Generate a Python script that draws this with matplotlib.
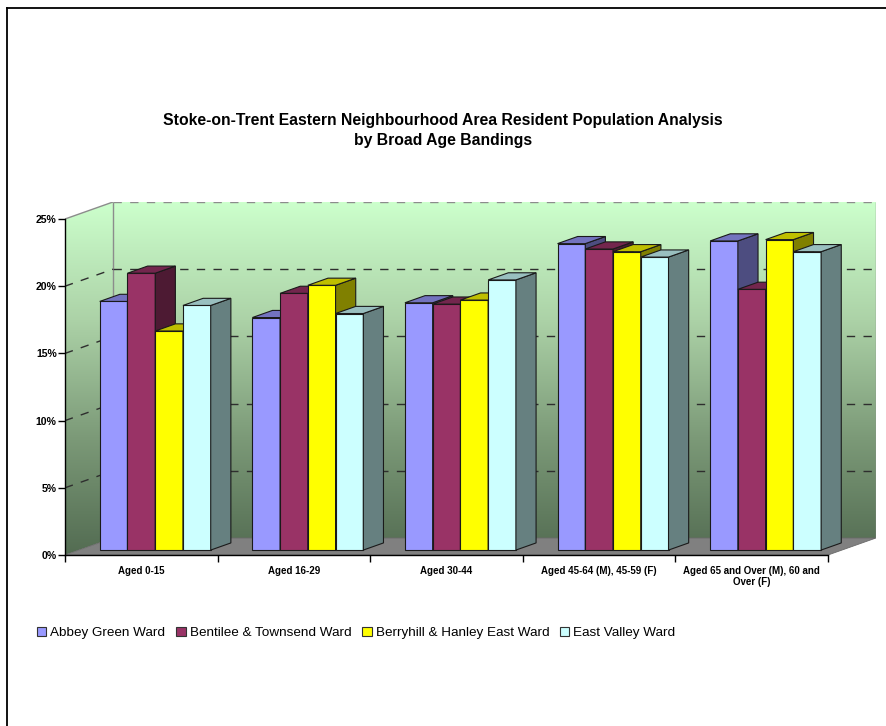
import numpy as np
import matplotlib
matplotlib.use("Agg")
import matplotlib.pyplot as plt
from matplotlib.patches import Polygon, Patch
from matplotlib.lines import Line2D
from matplotlib.colors import LinearSegmentedColormap

plt.rcParams["font.family"] = ["Liberation Sans", "DejaVu Sans"]

# ---- data (percent of resident population) ----
categories = ["Aged 0-15", "Aged 16-29", "Aged 30-44",
              "Aged 45-64 (M), 45-59 (F)",
              "Aged 65 and Over (M), 60 and\nOver (F)"]
wards = ["Abbey Green Ward", "Bentilee & Townsend Ward",
         "Berryhill & Hanley East Ward", "East Valley Ward"]
abbey_green = [18.5, 17.3, 18.4, 22.8, 23.0]
bentilee_townsend = [20.6, 19.1, 18.3, 22.4, 19.4]
berryhill_hanley_east = [16.3, 19.7, 18.6, 22.2, 23.1]
east_valley = [18.2, 17.6, 20.1, 21.8, 22.2]
y_ticks = [0, 5, 10, 15, 20, 25]
y_tick_labels = ["0%", "5%", "10%", "15%", "20%", "25%"]

series = [abbey_green, bentilee_townsend, berryhill_hanley_east, east_valley]

# ---- styling ----
front_colors = ["#9999FF", "#993366", "#FFFF00", "#CCFFFF"]
top_colors = ["#7373BF", "#73264D", "#BFBF00", "#99BFBF"]
side_colors = ["#4D4D80", "#4D1A33", "#808000", "#668080"]

W, H = 887, 726
fig = plt.figure(figsize=(W / 100, H / 100), dpi=100)

# plot geometry in pixels
X0, Y0 = 65, 555          # origin of the front plane
CAT_W, PCT_H = 152.6, 13.44
DEPTH_PX = (48, 17)
DX = DEPTH_PX[0] / CAT_W    # depth offset in data units
DY = DEPTH_PX[1] / PCT_H
n_cat = len(categories)
y_max = 25

ax = fig.add_axes([X0 / W, 1 - Y0 / H,
                   (n_cat + DX) * CAT_W / W, (y_max + DY) * PCT_H / H])
ax.set_xlim(0, n_cat + DX)
ax.set_ylim(0, y_max + DY)
ax.patch.set_visible(False)

# ---- walls with vertical gradient ----
wall_cmap = LinearSegmentedColormap.from_list(
    "wall", ["#536C52", "#7C9A78", "#ACD2A7", "#CCFFCC"])
grad = np.linspace(0, 1, 256).reshape(-1, 1)
im = ax.imshow(grad, extent=(0, n_cat + DX, 0, y_max + DY), origin="lower",
               aspect="auto", cmap=wall_cmap, zorder=0, interpolation="bilinear")
wall_outline = Polygon([(0, 0), (DX, DY), (n_cat + DX, DY), (n_cat + DX, y_max + DY),
                        (DX, y_max + DY), (0, y_max)], closed=True,
                       facecolor="none", edgecolor="none", transform=ax.transData)
ax.add_patch(wall_outline)
im.set_clip_path(wall_outline)

# floor
ax.add_patch(Polygon([(0, 0), (n_cat, 0), (n_cat + DX, DY), (DX, DY)], closed=True,
                     facecolor="#808080", edgecolor="#6A6A6A", lw=0.6, zorder=1))

# wall edges
edge_kw = dict(color="#8C8C8C", lw=1.0, zorder=1.5, solid_capstyle="butt")
ax.plot([0, DX], [y_max, y_max + DY], **edge_kw)
ax.plot([DX, DX], [DY, y_max + DY], **edge_kw)
ax.plot([n_cat + DX, n_cat + DX], [DY, y_max + DY], **edge_kw)

# gridlines on back and side walls
for v in y_ticks[1:]:
    col = "#8C8C8C" if v == y_max else "#2E2E2E"
    ax.plot([DX, n_cat + DX], [v + DY, v + DY], color=col, lw=1.0,
            ls=(0, (6, 6)), zorder=1.6)
    if v != y_max:
        ax.plot([0, DX], [v, v + DY], color=col, lw=1.0, ls=(0, (6, 6)), zorder=1.6)

# ---- 3D bars ----
n_ser = len(series)
bar_w = 1.0 / (n_ser + 1.5)
z0, z1 = 0.29, 0.71
for i in range(n_cat):
    for j, vals in enumerate(series):
        v = vals[i]
        xl = i + 0.75 * bar_w + j * bar_w
        xr = xl + bar_w
        fx, fy = z0 * DX, z0 * DY
        bx, by = z1 * DX, z1 * DY
        kw = dict(closed=True, edgecolor="#1A1A1A", lw=0.8, joinstyle="miter",
                  zorder=3 + i * 0.1 + j * 0.01)
        ax.add_patch(Polygon([(xl + fx, fy), (xr + fx, fy), (xr + fx, v + fy),
                              (xl + fx, v + fy)], facecolor=front_colors[j], **kw))
        ax.add_patch(Polygon([(xr + fx, fy), (xr + bx, by), (xr + bx, v + by),
                              (xr + fx, v + fy)], facecolor=side_colors[j], **kw))
        ax.add_patch(Polygon([(xl + fx, v + fy), (xr + fx, v + fy), (xr + bx, v + by),
                              (xl + bx, v + by)], facecolor=top_colors[j], **kw))

# ---- axes ----
for s in ("top", "right"):
    ax.spines[s].set_visible(False)
ax.spines["left"].set_bounds(0, y_max)
ax.spines["bottom"].set_bounds(0, n_cat)
for s in ("left", "bottom"):
    ax.spines[s].set_color("black")
    ax.spines[s].set_linewidth(1.0)
    ax.spines[s].set_zorder(5)

ax.set_yticks(y_ticks, y_tick_labels)
ax.tick_params(axis="y", direction="out", length=5, width=1, pad=1, labelsize=7.6)
for lab in ax.get_yticklabels():
    lab.set_fontweight("bold")

ax.set_xticks(range(n_cat + 1), [""] * (n_cat + 1))
ax.set_xticks([i + 0.5 for i in range(n_cat)], categories, minor=True)
ax.tick_params(axis="x", which="major", direction="out", length=5, width=1)
ax.tick_params(axis="x", which="minor", length=0, pad=8, labelsize=7)
for lab in ax.get_xticklabels(minor=True):
    lab.set_fontweight("bold")
    lab.set_linespacing(1.15)

# ---- title ----
fig.text(443 / W, 1 - 121 / H,
         "Stoke-on-Trent Eastern Neighbourhood Area Resident Population Analysis",
         ha="center", va="center", fontsize=11.3, fontweight="bold")
fig.text(443 / W, 1 - 141 / H, "by Broad Age Bandings",
         ha="center", va="center", fontsize=11.3, fontweight="bold")

# ---- legend ----
handles = [Patch(facecolor=c, edgecolor="#333333", lw=0.8) for c in front_colors]
fig.legend(handles, wards, ncol=4, loc="center left",
           bbox_to_anchor=(37 / W, 1 - 633 / H), frameon=False, fontsize=9.7,
           handlelength=0.7, handleheight=0.7, handletextpad=0.3,
           columnspacing=0.8, borderaxespad=0, borderpad=0)

# ---- outer frame ----
fig.add_artist(Line2D([7.5 / W, 7.5 / W], [0, 1 - 7.5 / H], transform=fig.transFigure,
                      color="black", lw=1.3))
fig.add_artist(Line2D([7.5 / W, 1], [1 - 7.5 / H, 1 - 7.5 / H], transform=fig.transFigure,
                      color="black", lw=1.3))

fig.savefig("out.png", dpi=100, facecolor="white")
